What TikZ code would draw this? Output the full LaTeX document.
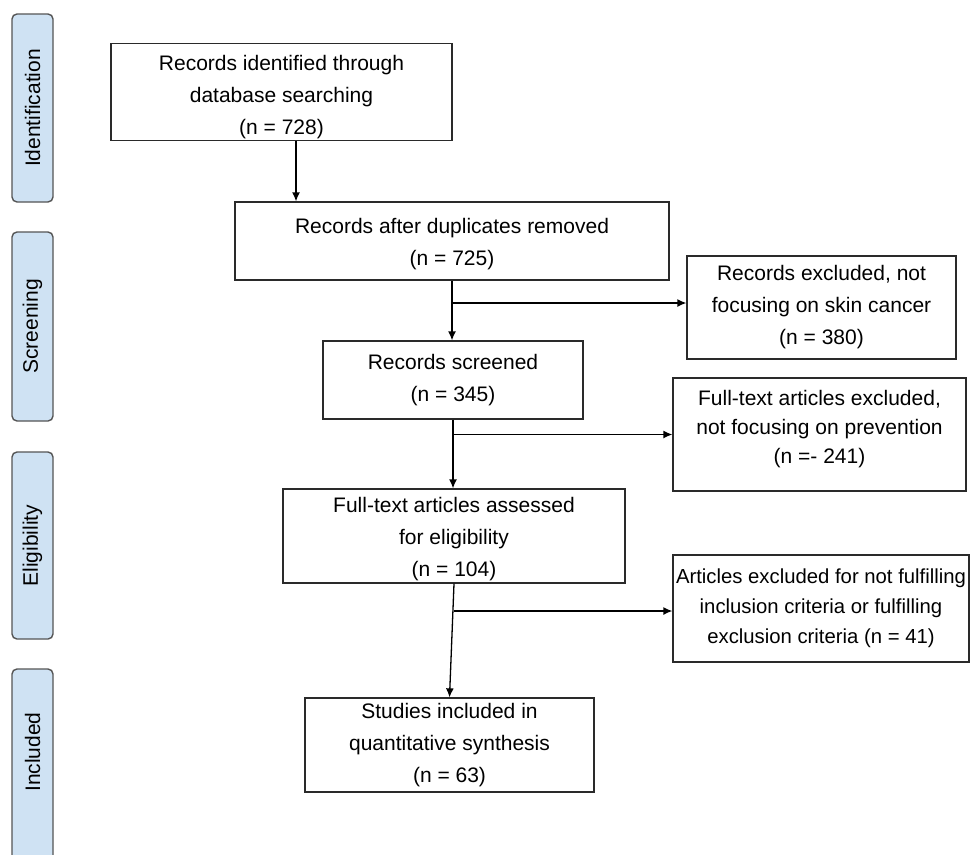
\documentclass[tikz,border=0pt]{standalone}
\usepackage{fontspec}
\setmainfont{Liberation Sans}
\usetikzlibrary{arrows.meta}
\definecolor{phasefill}{HTML}{CFE2F3}
\definecolor{phaseline}{HTML}{555555}
\definecolor{boxline}{HTML}{2A2A2A}
\begin{document}
\begin{tikzpicture}[x=1pt,y=-1pt,
  box/.style={draw=boxline, line width=1.3pt, align=center, inner sep=2pt,
    font=\fontsize{21}{32}\selectfont},
  phase/.style={draw=phaseline, fill=phasefill, line width=1.4pt, rounded corners=5pt,
    rotate=90, minimum height=41pt, inner sep=0pt, font=\fontsize{21}{25}\selectfont},
  phasetext/.style={rotate=90, inner sep=0pt, font=\fontsize{21}{25}\selectfont},
  arr/.style={line width=1.3pt, draw=black, -{Latex[length=9pt,width=8pt]}}]
\useasboundingbox (0,0) rectangle (971,854);
\fill[white] (0,0) rectangle (971,854);

% phase bars
\node[phase, minimum width=188pt] (p1) at (32.5,108) {Identification};
\node[phase, minimum width=189pt] (p2) at (32.5,326.5) {Screening};
\node[phase, minimum width=187pt] (p3) at (32.5,545.5) {Eligibility};
\node[phase, minimum width=200pt] (p4) at (32.5,769) {};
\node[phasetext] (p4t) at (32.5,752) {Included};

% boxes
\node[box, minimum width=341pt, minimum height=94pt] (b1) at (281.5,92)
  {\rule{0pt}{25pt}Records identified through\\database searching\\(n = 728)};
\node[box, minimum width=434pt, minimum height=78pt] (b2) at (452,241)
  {\rule{0pt}{21pt}Records after duplicates removed\\(n = 725)};
\node[box, minimum width=269pt, minimum height=103pt] (b3) at (821.5,307.5)
  {Records excluded, not\\focusing on skin cancer\\(n = 380)};
\node[box, minimum width=260pt, minimum height=78pt] (b4) at (453,380)
  {Records screened\\(n = 345)};
\node[box, minimum width=293pt, minimum height=113pt, font=\fontsize{21}{29}\selectfont] (b5) at (819.5,434.5)
  {Full-text articles excluded,\\not focusing on prevention\\(n =- 241)\rule[-15pt]{0pt}{0pt}};
\node[box, minimum width=342pt, minimum height=94pt] (b6) at (454,536)
  {\rule{0pt}{21pt}Full-text articles assessed\\for eligibility\\(n = 104)};
\node[box, minimum width=296pt, minimum height=107pt, font=\fontsize{20.3}{30}\selectfont] (b7) at (821,608.5)
  {Articles excluded for not fulfilling\\inclusion criteria or fulfilling\\exclusion criteria (n = 41)};
\node[box, minimum width=289pt, minimum height=94pt] (b8) at (449.5,745)
  {Studies included in\\quantitative synthesis\\(n = 63)};

% connectors
\draw[arr] ([xshift=14.5pt]b1.south) -- ([xshift=14.5pt]b1.south |- b2.north);
\draw[arr] (b2.south) -- (b2.south |- b4.north);
\draw[arr] ([yshift=4.5pt]b3.west -| b2.south) -- ([yshift=4.5pt]b3.west);
\draw[arr] (b4.south) -- (b4.south |- b6.north);
\draw[arr] (b5.west -| b4.south) -- (b5.west);
\draw[arr] (b6.south) -- (b8.north);
\draw[arr] ([yshift=-2.5pt]b7.west -| b6.south) -- ([yshift=-2.5pt]b7.west);
\end{tikzpicture}
\end{document}
